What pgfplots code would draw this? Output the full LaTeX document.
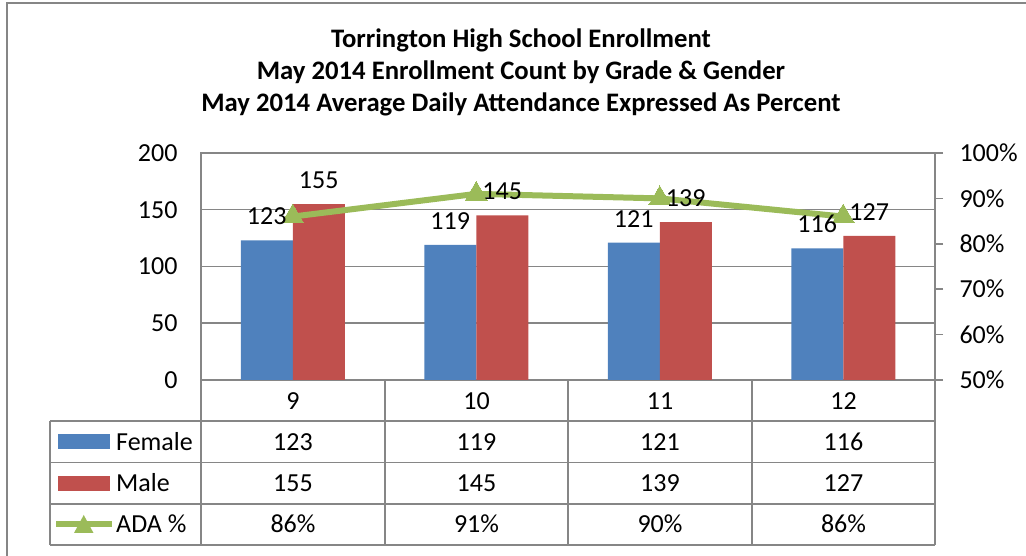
\documentclass[border=0pt]{standalone}
\usepackage{pgfplots}
\usepackage{pgfplotstable}
\pgfplotsset{compat=1.18}
\usepackage{fontspec}
\setmainfont{Carlito}
\definecolor{cfem}{HTML}{4F81BD}
\definecolor{cmale}{HTML}{C0504D}
\definecolor{cada}{HTML}{9BBB59}
\definecolor{cgrid}{HTML}{868686}
\newcommand\bodyfont{\fontsize{26bp}{31bp}\selectfont}
\newcommand\titlefont{\fontsize{26.7bp}{32bp}\selectfont\bfseries}

\pgfplotstableread{
x grade fem male ada
0 9 123 155 86
1 10 119 145 91
2 11 121 139 90
3 12 116 127 86
}\data

\pgfplotsset{
  common/.style={
    at={(201bp,176bp)}, anchor=south west,
    scale only axis, width=734bp, height=227bp,
    xmin=-0.5, xmax=3.5,
    /pgf/number format/assume math mode=true,
    ticklabel style={font=\bodyfont},
    clip=false,
  },
  barsaxis/.style={
    common, ymin=0, ymax=200,
    ybar=0pt, bar width=52bp,
  },
}

\begin{document}
\begin{tikzpicture}
\useasboundingbox (0,0) rectangle (1026bp,556bp);

% bars
\begin{axis}[
  barsaxis,
  xtick=\empty, ytick={0,50,100,150,200},
  ymajorgrids, grid style={cgrid, line width=1.5bp},
  axis line style={cgrid, line width=1.5bp},
  major tick length=0pt,
  yticklabel style={xshift=-20bp},
]
\addplot[fill=cfem, draw=none] table[x=x,y=fem]{\data};
\addplot[fill=cmale, draw=none] table[x=x,y=male]{\data};
\end{axis}

% ADA line on the right axis
\begin{axis}[
  common, ymin=50, ymax=100,
  axis x line=none, axis y line*=right,
  ytick={50,60,...,100},
  yticklabel={\pgfmathprintnumber{\tick}\%},
  tick align=outside, major tick length=8bp,
  tick style={cgrid, line width=1.5bp},
  axis line style={cgrid, line width=1.5bp},
  yticklabel style={xshift=13bp},
]
\addplot[cada, line width=6bp, mark=triangle*, mark size=12.5bp, mark options={solid, line width=0pt}] table[x=x,y=ada]{\data};
\end{axis}

% data labels of the bars, in front of the line
\begin{axis}[
  barsaxis, hide axis,
  nodes near coords,
  every node near coord/.append style={font=\bodyfont, yshift=12bp, text=black},
]
\addplot[draw=none, fill=none] table[x=x,y=fem]{\data};
\addplot[draw=none, fill=none] table[x=x,y=male]{\data};
\end{axis}

\begin{scope}[x=1bp,y=-1bp,yshift=556bp]
  % outer frame
  \draw[cgrid, line width=1.5bp] (7,560) -- (7,3) -- (1030,3);
  % titles
  \node[font=\titlefont, anchor=base] at (521,48) {Torrington High School Enrollment};
  \node[font=\titlefont, anchor=base] at (521,80) {May 2014 Enrollment Count by Grade \& Gender};
  \node[font=\titlefont, anchor=base] at (521,111.5) {May 2014 Average Daily Attendance Expressed As Percent};
  % data table lines
  \begin{scope}[cgrid, line width=1.5bp]
    \foreach \xx in {201,385,568,752,935} \draw (\xx,380) -- (\xx,545);
    \draw (50,421) -- (50,545);
    \foreach \yy in {421,462.5,504,545} \draw (50,\yy) -- (935,\yy);
  \end{scope}
  % legend keys
  \fill[cfem] (58,434) rectangle (110,449);
  \fill[cmale] (58,476) rectangle (110,491);
  \draw[cada, line width=5.5bp] (56,524) -- (112,524);
  \fill[cada] (74,533) -- (93.5,533) -- (83.75,515) -- cycle;
  \node[font=\bodyfont, anchor=base west, inner sep=0pt] at (116,450.5) {Female};
  \node[font=\bodyfont, anchor=base west, inner sep=0pt] at (116,491.5) {Male};
  \node[font=\bodyfont, anchor=base west, inner sep=0pt] at (116,533) {ADA \%};
  % table values
  \foreach \cx/\g/\f/\m/\a in {293/9/123/155/86, 476.5/10/119/145/91, 660/11/121/139/90, 843.5/12/116/127/86} {
    \node[font=\bodyfont, anchor=base, inner sep=0pt] at (\cx,410) {\g};
    \node[font=\bodyfont, anchor=base, inner sep=0pt] at (\cx,450.5) {\f};
    \node[font=\bodyfont, anchor=base, inner sep=0pt] at (\cx,491.5) {\m};
    \node[font=\bodyfont, anchor=base, inner sep=0pt] at (\cx,533) {\a\%};
  }
\end{scope}
\end{tikzpicture}
\end{document}
